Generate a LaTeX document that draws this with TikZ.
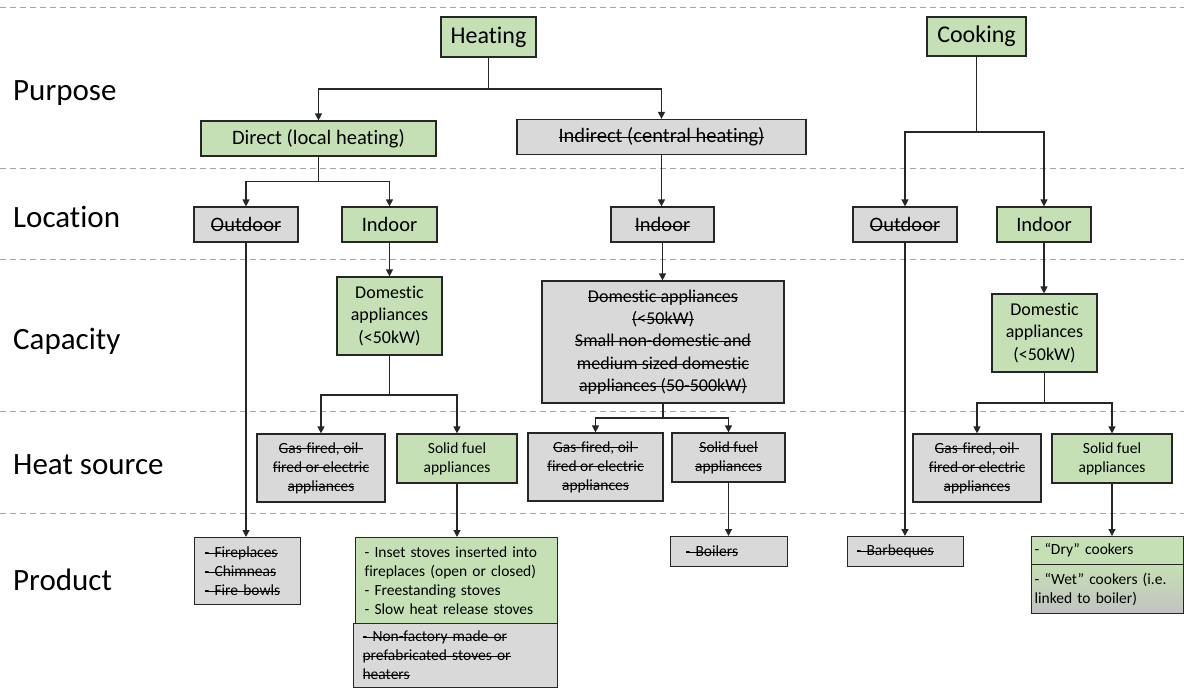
\documentclass[tikz,border=0pt]{standalone}
\usepackage{fontspec}
\setmainfont{Carlito}[Ligatures={NoCommon}]
\usetikzlibrary{arrows.meta}
\newsavebox{\strkbox}
\newcommand{\strk}[1]{\leavevmode\sbox{\strkbox}{#1}\rlap{\raisebox{0.24em}{\rule{\wd\strkbox}{1pt}}}\usebox{\strkbox}}
\definecolor{boxgreen}{HTML}{C5E0B4}
\definecolor{boxgray}{HTML}{D9D9D9}
\definecolor{wetgray}{HTML}{C2C2C2}
\definecolor{sepgray}{HTML}{A6A6A6}
\definecolor{edgecol}{HTML}{262626}
\newcommand{\fbig}{\fontsize{31}{37}\selectfont}
\newcommand{\ftop}{\fontsize{24}{29}\selectfont}
\newcommand{\floc}{\fontsize{20.5}{25}\selectfont}
\newcommand{\fmid}{\fontsize{18}{22.3}\selectfont}
\newcommand{\fsm}{\fontsize{15.5}{19}\selectfont}
\tikzset{
  box/.style={draw=edgecol, line width=1.2pt, inner sep=0pt, align=center},
  gbox/.style={box, fill=boxgreen},
  xbox/.style={box, fill=boxgray},
  lbox/.style={box, align=left, anchor=north west},
  arr/.style={line width=1.2pt, draw=edgecol, -{Triangle[length=7pt,width=7pt]}},
  ln/.style={line width=1.2pt, draw=edgecol},
  sep/.style={draw=sepgray, line width=1.1pt, dash pattern=on 6pt off 4pt},
  lab/.style={anchor=west, inner sep=0pt, font=\fbig}
}
\begin{document}
\begin{tikzpicture}[x=1pt,y=-1pt]
\useasboundingbox (0,0) rectangle (1184,688);
\fill[white] (0,0) rectangle (1184,688);

% separators
\draw[sep] (0,7.5) -- (1184,7.5);
\draw[sep] (0,168.5) -- (1184,168.5);
\draw[sep] (0,259.5) -- (1184,259.5);
\draw[sep] (0,411.5) -- (1184,411.5);
\draw[sep] (0,513.5) -- (1184,513.5);

% row labels
\node[lab] (lpurpose) at (13,93) {Purpose};
\node[lab] (llocation) at (13,217) {Location};
\node[lab] (lcapacity) at (13,341) {Capacity};
\node[lab] (lheat) at (13,465) {Heat source};
\node[lab] (lproduct) at (13,580) {Product};

% purpose
\node[gbox, minimum width=95pt, minimum height=40pt, font=\ftop] (heat) at (488.5,37) {Heating};
\node[gbox, minimum width=99pt, minimum height=39pt, font=\ftop] (cook) at (976.5,36.5) {Cooking};
\node[gbox, minimum width=235pt, minimum height=35pt, font=\floc] (direct) at (318.5,138.5) {Direct (local heating)};
\node[xbox, minimum width=289pt, minimum height=35pt, font=\floc] (indirect) at (661.5,137) {\strk{Indirect (central heating)}};

% location
\node[xbox, minimum width=104pt, minimum height=35pt, font=\floc] (outh) at (246,224.5) {\strk{Outdoor}};
\node[gbox, minimum width=95pt, minimum height=35pt, font=\floc] (inh) at (389.5,224.5) {Indoor};
\node[xbox, minimum width=103pt, minimum height=35pt, font=\floc] (ini) at (662.5,224.5) {\strk{Indoor}};
\node[xbox, minimum width=104pt, minimum height=35pt, font=\floc] (outc) at (905,224.5) {\strk{Outdoor}};
\node[gbox, minimum width=94pt, minimum height=35pt, font=\floc] (inc) at (1044,224.5) {Indoor};

% capacity
\node[gbox, minimum width=105pt, minimum height=78pt, font=\fmid] (domh) at (389.5,316) {Domestic\\appliances\\(<50kW)};
\node[xbox, minimum width=242pt, minimum height=122pt, font=\fmid] (bigi) at (663,342) {\strk{Domestic appliances}\\\strk{(<50kW)}\\\strk{Small non-domestic and}\\\strk{medium sized domestic}\\\strk{appliances (50-500kW)}};
\node[gbox, minimum width=105pt, minimum height=78pt, font=\fmid] (domc) at (1044.5,333) {Domestic\\appliances\\(<50kW)};

% heat source
\node[xbox, minimum width=128pt, minimum height=68pt, font=\fsm] (gash) at (321,468) {\strk{Gas-fired, oil-}\\\strk{fired or electric}\\\strk{appliances}};
\node[gbox, minimum width=120pt, minimum height=49pt, font=\fsm] (solh) at (457,458.5) {Solid fuel\\appliances};
\node[xbox, minimum width=135pt, minimum height=68pt, font=\fsm] (gasi) at (595.5,467) {\strk{Gas-fired, oil-}\\\strk{fired or electric}\\\strk{appliances}};
\node[xbox, minimum width=113pt, minimum height=49pt, font=\fsm] (soli) at (728.5,457.5) {\strk{Solid fuel}\\\strk{appliances}};
\node[xbox, minimum width=128pt, minimum height=68pt, font=\fsm] (gasc) at (977,468) {\strk{Gas-fired, oil-}\\\strk{fired or electric}\\\strk{appliances}};
\node[gbox, minimum width=120pt, minimum height=49pt, font=\fsm] (solc) at (1112,458.5) {Solid fuel\\appliances};

% products
\node[lbox, fill=boxgray, text width=86pt, inner xsep=10pt, minimum height=67pt, font=\fsm] (fire) at (194,537) {\strk{- Fireplaces}\\\strk{- Chimneas}\\\strk{- Fire bowls}};
\node[lbox, fill=boxgreen, text width=184pt, inner xsep=9pt, minimum height=86pt, font=\fsm] (inset) at (355,537) {- Inset stoves inserted into\\fireplaces (open or closed)\\- Freestanding stoves\\- Slow heat release stoves};
\node[lbox, fill=boxgray, text width=186pt, inner xsep=9pt, minimum height=64pt, font=\fsm] (nonfac) at (353,623) {\strk{- Non-factory made or}\\\strk{prefabricated stoves or}\\\strk{heaters}};
\node[lbox, fill=boxgray, text width=87pt, inner xsep=15pt, minimum height=30pt, font=\fsm] (boil) at (670,536) {\strk{- Boilers}};
\node[lbox, fill=boxgray, text width=98pt, inner xsep=9pt, minimum height=30pt, font=\fsm] (barb) at (847,536) {\strk{- Barbeques}};
\node[lbox, fill=boxgreen, text width=146pt, inner xsep=3pt, minimum height=28pt, font=\fsm] (dry) at (1031,536) {- “Dry” cookers};
\node[lbox, top color=boxgreen, bottom color=wetgray, text width=146pt, inner xsep=3pt, minimum height=49pt, font=\fsm] (wet) at (1031,564) {- “Wet” cookers (i.e.\\linked to boiler)};

% junctions
\coordinate (j1) at (488.5,89);
\coordinate (j2) at (318.5,181.5);
\coordinate (j3) at (389.5,395);
\coordinate (j4) at (663,418);
\coordinate (j5) at (976.5,132);
\coordinate (j6) at (1044.5,403);

% connectors
\draw[ln] (heat.south) -- (j1);
\draw[arr] (j1) -| (direct.north);
\draw[arr] (j1) -| (indirect.north);
\draw[ln] (direct.south) -- (j2);
\draw[arr] (j2) -| (outh.north);
\draw[arr] (j2) -| (inh.north);
\draw[arr] (outh.south) -- (outh.south |- fire.north);
\draw[arr] (inh.south) -- (domh.north);
\draw[ln] (domh.south) -- (j3);
\draw[arr] (j3) -| (gash.north);
\draw[arr] (j3) -| (solh.north);
\draw[arr] (solh.south) -- (solh.south |- inset.north);
\draw[arr] (indirect.south) -- (indirect.south |- ini.north);
\draw[arr] (ini.south) -- (ini.south |- bigi.north);
\draw[ln] (bigi.south) -- (j4);
\draw[arr] (j4) -| (gasi.north);
\draw[arr] (j4) -| (soli.north);
\draw[arr] (soli.south) -- (soli.south |- boil.north);
\draw[ln] (cook.south) -- (j5);
\draw[arr] (j5) -| (outc.north);
\draw[arr] (j5) -| (inc.north);
\draw[arr] (outc.south) -- (outc.south |- barb.north);
\draw[arr] (inc.south) -- (inc.south |- domc.north);
\draw[ln] (domc.south) -- (j6);
\draw[arr] (j6) -| (gasc.north);
\draw[arr] (j6) -| (solc.north);
\draw[arr] (solc.south) -- (solc.south |- dry.north);
\end{tikzpicture}
\end{document}
